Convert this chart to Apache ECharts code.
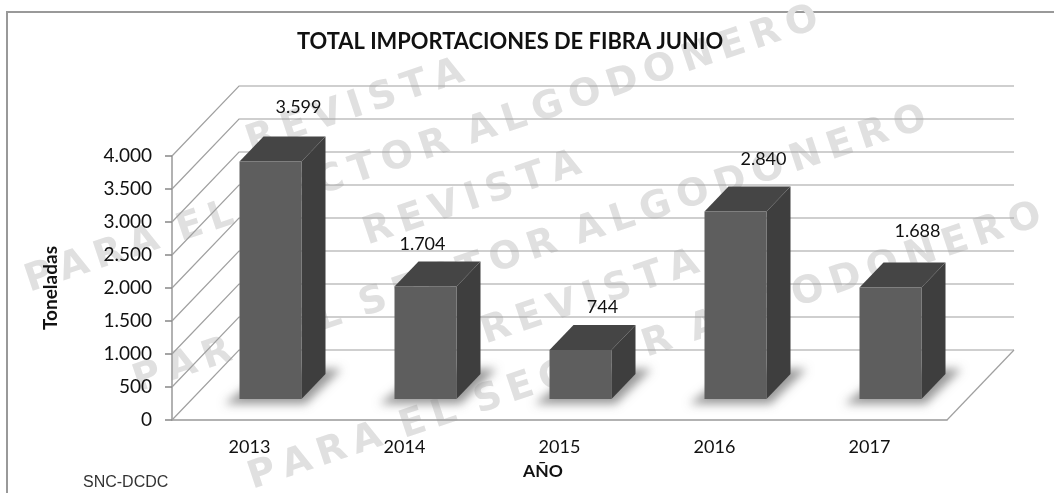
<!DOCTYPE html>
<html>
<head>
<meta charset="utf-8">
<title>Total importaciones de fibra junio</title>
<script src="https://cdn.jsdelivr.net/npm/echarts@6/dist/echarts.min.js"></script>
<style>
  html, body { margin: 0; padding: 0; background: #fff; }
  #chart { width: 1054px; height: 493px; }
</style>
</head>
<body>
<div id="chart"></div>
<script>
const years = ['2013', '2014', '2015', '2016', '2017']
const tons = [3599, 1704, 744, 2840, 1688]
const yTicks = [0, 500, 1000, 1500, 2000, 2500, 3000, 3500, 4000]

// depth of the fake 3D box and of the bars, in px
const WALL_DX = 67, WALL_DY = 70
const BAR_W = 62, BAR_DX = 24, BAR_DY = 25
const BAR_SHIFT_X = 21, BAR_LIFT = 21
// excel data labels were dragged by hand, so each one has its own nudge from the bar top
const labelNudge = [[28, -29], [-3, -17], [22, -18], [28, -27], [27, -31]]
// the shadow polygon is drawn off canvas so only its blur lands on the floor
const OFFSCREEN = 3000

const fmt = v => String(v).replace(/\B(?=(\d{3})+$)/g, '.')
// thin spaces, the watermark letters sit a bit apart
const spaced = s => s.split(' ').map(w => w.split('').join('\u2009')).join(' \u2009')

const FULL_MARK = spaced('PARA EL SECTOR ALGODONERO')
const SHORT_MARK = spaced('REVISTA')
const watermarks = [
  { text: SHORT_MARK, x: 355, y: 107 },
  { text: FULL_MARK, x: 422, y: 150 },
  { text: SHORT_MARK, x: 472, y: 199 },
  { text: FULL_MARK, x: 530, y: 250 },
  { text: SHORT_MARK, x: 590, y: 298 },
  { text: FULL_MARK, x: 645, y: 347 }
]

const chart = echarts.init(document.getElementById('chart'))

function wallItem(params, api) {
  const y = api.coord([0, api.value(0)])[1]
  const r = params.coordSys
  const isFloor = api.value(0) === 0
  const lineStyle = { stroke: '#a0a0a0', lineWidth: 1.2 }
  const kids = [
    { type: 'polyline', shape: { points: [[r.x, y], [r.x + WALL_DX, y - WALL_DY], [r.x + r.width + WALL_DX, y - WALL_DY]] }, style: { ...lineStyle, fill: null } }
  ]
  if (isFloor) {
    kids.push({ type: 'line', shape: { x1: r.x + r.width, y1: y, x2: r.x + r.width + WALL_DX, y2: y - WALL_DY }, style: lineStyle })
  }
  return { type: 'group', children: kids }
}

function barItem(params, api) {
  const i = api.value(0)
  const base = api.coord([i, 0])
  const top = api.coord([i, api.value(1)])
  const l = base[0] + BAR_SHIFT_X - BAR_W / 2
  const r = l + BAR_W
  const b = base[1] - BAR_LIFT
  const t = top[1] - BAR_LIFT
  const d = BAR_DX, h = BAR_DY
  const nudge = labelNudge[i]
  const shadow = [[l - 15, b + 5], [r + 4, b + 5], [r + d + 16, b - h - 5], [r + d - 8, b - h - 5], [l + d, b - h]]
  return {
    type: 'group',
    children: [
      { type: 'polygon', shape: { points: shadow.map(p => [p[0] - OFFSCREEN, p[1]]) },
        style: { fill: '#000', shadowBlur: 10, shadowColor: 'rgba(135,135,135,0.85)', shadowOffsetX: OFFSCREEN } },
      { type: 'polygon', shape: { points: [[r, t], [r + d, t - h], [r + d, b - h], [r, b]] }, style: { fill: '#3e3e3e' } },
      { type: 'polygon', shape: { points: [[l, t], [l + d, t - h], [r + d, t - h], [r, t]] }, style: { fill: '#454545' } },
      { type: 'rect', shape: { x: l, y: t, width: BAR_W, height: b - t }, style: { fill: '#5e5e5e' } },
      { type: 'text', style: { text: fmt(api.value(1)), x: (l + r) / 2 + nudge[0], y: t - h + nudge[1], align: 'center', verticalAlign: 'middle',
        font: '18px Lato', fill: '#111' } }
    ]
  }
}

chart.setOption({
  animation: false,
  backgroundColor: '#fff',
  title: {
    text: 'TOTAL IMPORTACIONES DE FIBRA JUNIO',
    left: 505, top: 26, textAlign: 'center',
    textStyle: { fontFamily: 'Lato', fontSize: 21.9, fontWeight: 'bold', color: '#111' }
  },
  grid: { left: 172, right: 107, top: 156, bottom: 73 },
  xAxis: {
    type: 'category',
    data: years,
    name: 'AÑO', nameLocation: 'middle', nameGap: 42,
    nameTextStyle: { fontFamily: 'Lato', fontSize: 17.5, fontWeight: 'bold', color: '#111', padding: [0, 33, 0, 0] },
    axisLine: { lineStyle: { color: '#999', width: 1.5 } },
    axisTick: { length: 6, lineStyle: { color: '#888' } },
    axisLabel: { fontFamily: 'Lato', fontSize: 18, color: '#111', margin: 18 }
  },
  yAxis: {
    type: 'value',
    min: 0, max: 4000, interval: 500,
    name: 'Toneladas', nameLocation: 'middle', nameGap: 112, nameRotate: 90,
    nameTextStyle: { fontFamily: 'Lato', fontSize: 19, fontWeight: 'bold', color: '#111' },
    axisLine: { show: true, lineStyle: { color: '#999', width: 1.5 } },
    axisTick: { show: true, length: 7, lineStyle: { color: '#888', width: 1.5 } },
    axisLabel: { fontFamily: 'Lato', fontSize: 19, color: '#111', margin: 20, formatter: fmt },
    splitLine: { show: false }
  },
  graphic: [
    { type: 'polyline', silent: true, z: -2, shape: { points: [[7, 493], [7, 12], [1054, 12]] }, style: { stroke: '#999', lineWidth: 2, fill: null } },
    { type: 'text', left: 83, top: 475, style: { text: 'SNC-DCDC', font: '16px "Liberation Sans"', fill: '#333' } },
    ...watermarks.map(w => ({
      type: 'text', silent: true, z: -1, x: w.x, y: w.y, rotation: 18.5 * Math.PI / 180,
      style: { text: w.text, font: 'bold 38px "DejaVu Sans"', fill: '#e0e0e0', align: 'center', verticalAlign: 'middle' }
    }))
  ],
  series: [
    { type: 'custom', renderItem: wallItem, data: yTicks.map(v => [v]), encode: { y: 0 }, z: 1, silent: true },
    { type: 'custom', renderItem: barItem, data: tons.map((v, i) => [i, v]), encode: { x: 0, y: 1 }, z: 3 }
  ]
})
</script>
</body>
</html>
